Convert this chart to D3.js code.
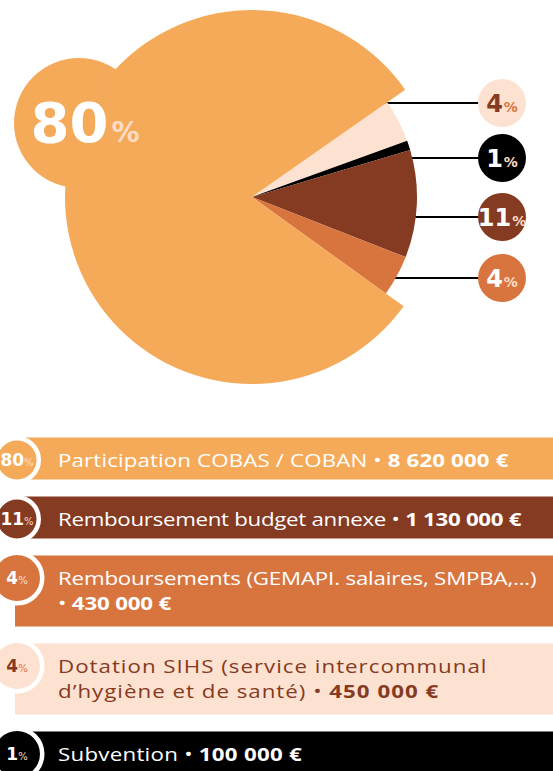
<!DOCTYPE html>
<html><head><meta charset="utf-8">
<script src="https://cdn.jsdelivr.net/npm/d3@7"></script>
<style>html,body{margin:0;padding:0;background:#fff;overflow:hidden}</style>
</head><body><svg id="c" width="553" height="771"></svg>
<script>
// ---- data ----
const categories = [
  ["Participation COBAS / COBAN"],
  ["Remboursement budget annexe"],
  ["Remboursements (GEMAPI. salaires, SMPBA,...)"],
  ["Dotation SIHS (service intercommunal", "d’hygiène et de santé)"],
  ["Subvention"]
];
const amounts = [8620000, 1130000, 430000, 450000, 100000];
const amountLabels = ["8 620 000 €", "1 130 000 €", "430 000 €", "450 000 €", "100 000 €"];
const percentLabels = ["80", "11", "4", "4", "1"];
const colors = ["#F5AA5A", "#853A22", "#D8753F", "#FDE2D1", "#000000"];
const textColors = ["#FFFFFF", "#FFFFFF", "#FFFFFF", "#853A22", "#FFFFFF"];
const pctColors = ["#FDDCC5", "#FDDCC5", "#FDDCC5", "#D8753F", "#FDDCC5"];
const pieOrder = [3, 4, 1, 2, 0]; // clockwise from the upper right

// ---- layout ----
const svg = d3.select("#c");
const cx = 252, cy = 197, rBig = 187, rSmall = 165;
const a0 = 55 * Math.PI / 180;
const numFont = "'DejaVu Sans', sans-serif";
const txtFont = "'Open Sans', sans-serif";

const pie = d3.pie().sort(null).value(d => d.v).startAngle(a0).endAngle(a0 + 2 * Math.PI);
const arcs = pie(pieOrder.map(i => ({ i, v: amounts[i] })));
const arcBig = d3.arc().innerRadius(0).outerRadius(rBig);
const arcSmall = d3.arc().innerRadius(0).outerRadius(rSmall);

const g = svg.append("g");
g.append("circle").attr("cx", 79).attr("cy", 123).attr("r", 65).attr("fill", colors[0]);

const labelY = [103, 158, 217, 278];
const labelX = 502, labelR = 24;
const small = arcs.filter(a => a.data.i !== 0);
small.forEach((a, k) => {
  const y = labelY[k];
  const x0 = cx + Math.sqrt(rSmall * rSmall - (y - cy) * (y - cy)) - 4;
  g.append("line").attr("x1", x0).attr("x2", labelX - labelR + 1)
    .attr("y1", y).attr("y2", y).attr("stroke", "#000").attr("stroke-width", 2);
});

g.selectAll("path.slice").data(arcs).join("path")
  .attr("class", "slice")
  .attr("transform", `translate(${cx},${cy})`)
  .attr("d", d => d.data.i === 0 ? arcBig(d) : arcSmall(d))
  .attr("fill", d => colors[d.data.i]);

const big = g.append("text").attr("x", 85).attr("y", 142).attr("text-anchor", "middle")
  .attr("font-family", numFont).attr("font-weight", 700);
big.append("tspan").attr("font-size", 56).attr("fill", "#fff").text(percentLabels[0]);
big.append("tspan").attr("font-size", 28).attr("font-weight", 600).attr("fill", "#FDDCC5").attr("dx", 3).text("%");

const pieDigitColor = i => i === 3 ? "#853A22" : "#FFFFFF";
const piePctColor = i => i === 3 ? "#D8753F" : "#FDDCC5";
small.forEach((a, k) => {
  const i = a.data.i, y = labelY[k];
  g.append("circle").attr("cx", labelX).attr("cy", y).attr("r", labelR).attr("fill", colors[i]);
  const t = g.append("text").attr("x", labelX).attr("y", y + 8.5).attr("text-anchor", "middle")
    .attr("font-family", numFont).attr("font-weight", 700);
  t.append("tspan").attr("font-size", 24).attr("fill", pieDigitColor(i)).text(percentLabels[i]);
  t.append("tspan").attr("font-size", 14).attr("fill", piePctColor(i)).attr("dx", 1).text("%");
});

// ---- legend ----
const legend = svg.append("g");
const fs = 18, lineH = 24.5, sx = 1.24, maxW = 395, textX = 58;
const spacing = [0.1, -0.25, -0.15, 0.8, 0.2];
const measure = (str, weight, ls) => {
  const t = legend.append("text").attr("font-family", txtFont).attr("font-size", fs)
    .attr("font-weight", weight).attr("letter-spacing", ls).attr("xml:space", "preserve").text(str);
  const w = t.node().getComputedTextLength(); t.remove(); return w;
};
const circR = [24, 24, 27.5, 27.5, 27.5];
let rowTop = 437.5;
categories.forEach((lines, i) => {
  const last = lines[lines.length - 1];
  const fits = measure(last + " • ", 400, spacing[i]) + measure(amountLabels[i], 700, spacing[i]) <= maxW;
  const rows = lines.map(l => ({ text: l, amount: null }));
  if (fits) rows[rows.length - 1].amount = amountLabels[i];
  else rows.push({ text: "", amount: amountLabels[i] });
  const h = rows.length === 1 ? 42 : 71;
  legend.append("rect").attr("x", 15).attr("y", rowTop).attr("width", 553 - 15).attr("height", h)
    .attr("fill", colors[i]);
  rows.forEach((r, k) => {
    const t = legend.append("g")
      .attr("transform", `translate(${textX},${rowTop + 29.5 + k * lineH}) scale(${sx},1)`)
      .append("text")
      .attr("font-family", txtFont).attr("font-size", fs).attr("fill", textColors[i])
      .attr("letter-spacing", spacing[i]).attr("xml:space", "preserve");
    if (r.text) t.append("tspan").text(r.text);
    if (r.amount) {
      t.append("tspan").text(r.text ? " • " : "• ");
      t.append("tspan").attr("font-weight", 700).text(r.amount);
    }
  });
  const ccy = rowTop + 22.5;
  legend.append("circle").attr("cx", 17).attr("cy", ccy).attr("r", circR[i] - 2.25)
    .attr("fill", colors[i]).attr("stroke", "#fff").attr("stroke-width", 4.5);
  const ct = legend.append("text").attr("x", 17).attr("y", ccy + 6).attr("text-anchor", "middle")
    .attr("font-family", numFont).attr("font-weight", 700);
  ct.append("tspan").attr("font-size", 17).attr("fill", i === 3 ? "#853A22" : "#FFFFFF").text(percentLabels[i]);
  ct.append("tspan").attr("font-size", 10).attr("font-weight", 400).attr("fill", pctColors[i]).text("%");
  rowTop += h + 17;
});
</script></body></html>
